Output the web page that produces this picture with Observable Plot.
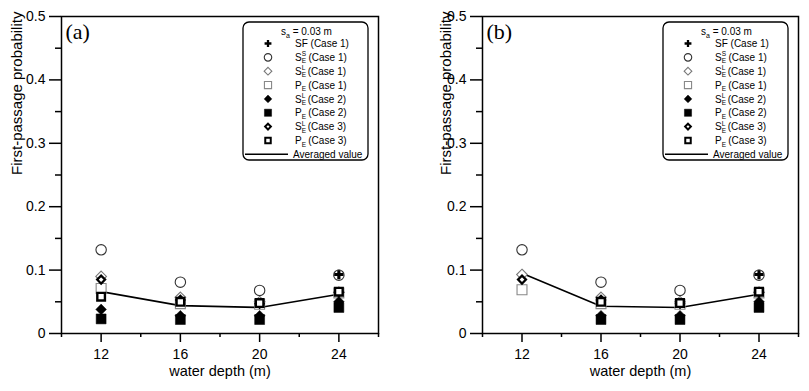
<!DOCTYPE html>
<html>
<head>
<meta charset="utf-8">
<script src="https://cdn.jsdelivr.net/npm/d3@7"></script>
<script src="https://cdn.jsdelivr.net/npm/@observablehq/plot@0.6"></script>
<style>
  body { margin: 0; background: #fff; }
  #wrap { display: flex; width: 809px; height: 391px; background: #fff; }
  #wrap svg { display: block; }
</style>
</head>
<body>
<div id="wrap"></div>
<script>
// ---------- data ----------
const depths = [12, 16, 20, 24];
const xMajorTicks = [12, 16, 20, 24];
const xMinorTicks = [10, 14, 18, 22, 26];
const yMajorTicks = [0, 0.1, 0.2, 0.3, 0.4, 0.5];
const yMinorTicks = [0.05, 0.15, 0.25, 0.35, 0.45];

const seriesKeys = ["SF1", "SES1", "SEL1", "PE1", "SEL2", "PE2", "SEL3", "PE3"];

// panel (a)
const sfCase1_a  = [null, null, null, 0.093];
const seSCase1_a = [0.132, 0.081, 0.068, 0.092];
const seLCase1_a = [0.090, 0.057, 0.050, 0.065];
const peCase1_a  = [0.071, 0.047, 0.046, 0.064];
const seLCase2_a = [0.038, 0.028, 0.028, 0.050];
const peCase2_a  = [0.023, 0.022, 0.022, 0.041];
const seLCase3_a = [0.085, 0.053, 0.047, 0.065];
const peCase3_a  = [0.058, 0.050, 0.048, 0.066];
const avg_a      = [0.066, 0.044, 0.041, 0.062];

// panel (b)
const sfCase1_b  = [null, null, null, 0.093];
const seSCase1_b = [0.132, 0.081, 0.068, 0.092];
const seLCase1_b = [0.093, 0.057, 0.050, 0.065];
const peCase1_b  = [0.069, 0.047, 0.046, 0.064];
const seLCase2_b = [null, 0.028, 0.028, 0.050];
const peCase2_b  = [null, 0.022, 0.022, 0.041];
const seLCase3_b = [0.085, 0.053, 0.047, 0.065];
const peCase3_b  = [null, 0.050, 0.048, 0.066];
const avg_b      = [0.095, 0.043, 0.041, 0.062];

// ---------- styles ----------
const styles = {
  SF1:  {symbol: "cross",    r: 4.0, fill: "black", stroke: "none",  strokeWidth: 0},
  SES1: {symbol: "circle",   r: 5.2, fill: "none",  stroke: "#333",  strokeWidth: 1.1},
  SEL1: {symbol: "diamond2", r: 4.8, fill: "white", stroke: "#777",  strokeWidth: 1.1},
  PE1:  {symbol: "square",   r: 5.6, fill: "white", stroke: "#888",  strokeWidth: 1.1},
  SEL2: {symbol: "diamond2", r: 4.8, fill: "black", stroke: "black", strokeWidth: 0.5},
  PE2:  {symbol: "square",   r: 5.6, fill: "black", stroke: "black", strokeWidth: 0.5},
  SEL3: {symbol: "diamond2", r: 3.6, fill: "white", stroke: "black", strokeWidth: 2.2},
  PE3:  {symbol: "square",   r: 4.3, fill: "white", stroke: "black", strokeWidth: 2.4}
};
const legendLabels = [
  {key: "SF1",  base: "SF", sub: "",  sup: "",  rest: " (Case 1)"},
  {key: "SES1", base: "S",  sub: "E", sup: "S", rest: " (Case 1)"},
  {key: "SEL1", base: "S",  sub: "E", sup: "L", rest: " (Case 1)"},
  {key: "PE1",  base: "P",  sub: "E", sup: "",  rest: " (Case 1)"},
  {key: "SEL2", base: "S",  sub: "E", sup: "L", rest: " (Case 2)"},
  {key: "PE2",  base: "P",  sub: "E", sup: "",  rest: " (Case 2)"},
  {key: "SEL3", base: "S",  sub: "E", sup: "L", rest: " (Case 3)"},
  {key: "PE3",  base: "P",  sub: "E", sup: "",  rest: " (Case 3)"}
];
const symbolMap = {cross: d3.symbolCross, circle: d3.symbolCircle, diamond2: d3.symbolDiamond2, square: d3.symbolSquare};

const FONT = "'Liberation Sans', Arial, Helvetica, sans-serif";

function addLegend(svg, frameRight) {
  const w = 125, h = 138;
  const x0 = frameRight - 10 - w, y0 = 22;
  const g = d3.select(svg).append("g").attr("font-family", FONT).attr("font-size", 10)
    .attr("fill", "black").attr("text-anchor", "start");
  g.append("rect").attr("x", x0).attr("y", y0).attr("width", w).attr("height", h)
    .attr("rx", 6).attr("fill", "white").attr("stroke", "black").attr("stroke-width", 1.3);
  const title = g.append("text").attr("x", x0 + 38).attr("y", 35);
  title.append("tspan").text("s");
  title.append("tspan").attr("font-size", 7).attr("dy", 2.5).text("a");
  title.append("tspan").attr("dy", -2.5).text(" = 0.03 m");
  legendLabels.forEach((d, i) => {
    const cy = 43.5 + i * 13.85;
    const s = styles[d.key];
    const scale = 0.72;
    const size = Math.PI * (s.r * scale) ** 2;
    g.append("path").attr("transform", `translate(${x0 + 25},${cy})`)
      .attr("d", d3.symbol(symbolMap[s.symbol], size)())
      .attr("fill", s.fill).attr("stroke", s.stroke)
      .attr("stroke-width", Math.min(s.strokeWidth, 2));
    const t = g.append("text").attr("x", x0 + 52).attr("y", cy + 3.6);
    t.append("tspan").text(d.base);
    let dy = 0;
    if (d.sub) { t.append("tspan").attr("font-size", 6.5).attr("dy", 2.5).text(d.sub); dy += 2.5; }
    if (d.sup) { t.append("tspan").attr("font-size", 6.5).attr("dx", -4.2).attr("dy", -7).text(d.sup); dy -= 7; }
    t.append("tspan").attr("dy", -dy).attr("dx", d.sub ? -0.5 : 0).text(d.rest);
  });
  const ly = 43.5 + 8 * 13.85;
  g.append("line").attr("x1", x0 + 2).attr("x2", x0 + 45).attr("y1", ly).attr("y2", ly)
    .attr("stroke", "black").attr("stroke-width", 1.5);
  g.append("text").attr("x", x0 + 50).attr("y", ly + 3.6).text("Averaged value");
}

function panel({width, marginRight, series, avg, tag, yLabelDx}) {
  const rows = [];
  seriesKeys.forEach((k, i) => series[i].forEach((v, j) => {
    if (v != null) rows.push({depth: depths[j], p: v, key: k});
  }));
  const avgRows = depths.map((d, j) => ({depth: d, p: avg[j]}));
  const marginLeft = 61;
  const svg = Plot.plot({
    width, height: 391,
    marginLeft, marginRight, marginTop: 16, marginBottom: 58,
    style: {fontFamily: FONT, fontSize: "14px", color: "black", background: "white", overflow: "visible"},
    x: {domain: [10, 26]},
    y: {domain: [0, 0.5]},
    marks: [
      Plot.axisY({ticks: yMajorTicks, tickSize: 12, tickPadding: 4, strokeWidth: 1.5,
        tickFormat: d => d === 0 ? "0" : d.toFixed(1), fontSize: 14, label: null}),
      Plot.axisY({ticks: yMinorTicks, tickSize: 6, strokeWidth: 1.5, fill: "none", label: null}),
      Plot.axisX({ticks: xMajorTicks, tickSize: 9, tickPadding: 7, strokeWidth: 1.5,
        tickFormat: d => String(d), fontSize: 14, label: null}),
      Plot.axisX({ticks: xMinorTicks, tickSize: 4, strokeWidth: 1.5, fill: "none", label: null}),
      Plot.frame({stroke: "black", strokeWidth: 1.5}),
      Plot.text(["First-passage probability"], {frameAnchor: "left", rotate: -90, dx: yLabelDx, fontSize: 15}),
      Plot.text(["water depth (m)"], {frameAnchor: "bottom", dy: 42.5, fontSize: 14.5}),
      Plot.text([tag], {frameAnchor: "top-left", dx: 4, dy: 22, textAnchor: "start", lineAnchor: "bottom",
        fontSize: 22, fontFamily: "'Liberation Serif', 'Times New Roman', serif"}),
      Plot.line(avgRows, {x: "depth", y: "p", stroke: "black", strokeWidth: 1.6}),
      ...seriesKeys.map(k => Plot.dot(rows.filter(r => r.key === k), {x: "depth", y: "p", ...styles[k]}))
    ]
  });
  addLegend(svg, width - marginRight);
  return svg;
}

const wrap = document.getElementById("wrap");
wrap.appendChild(panel({
  width: 421, marginRight: 43, tag: "(a)", yLabelDx: -44, avg: avg_a,
  series: [sfCase1_a, seSCase1_a, seLCase1_a, peCase1_a, seLCase2_a, peCase2_a, seLCase3_a, peCase3_a]
}));
wrap.appendChild(panel({
  width: 388, marginRight: 11, tag: "(b)", yLabelDx: -36, avg: avg_b,
  series: [sfCase1_b, seSCase1_b, seLCase1_b, peCase1_b, seLCase2_b, peCase2_b, seLCase3_b, peCase3_b]
}));
</script>
</body>
</html>
